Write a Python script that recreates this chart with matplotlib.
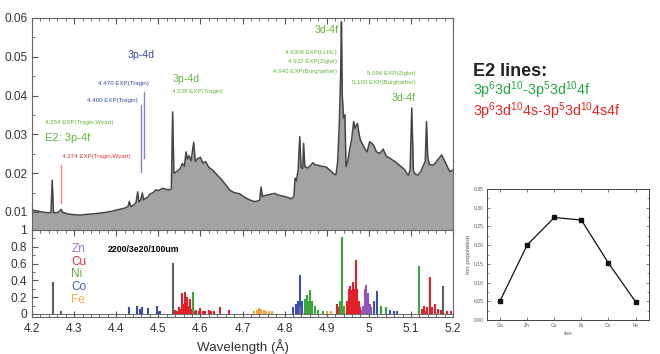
import matplotlib
matplotlib.use("Agg")
import matplotlib.pyplot as plt
from matplotlib.ticker import MultipleLocator

plt.rcParams['font.family'] = ['Liberation Sans', 'DejaVu Sans']
plt.rcParams['mathtext.fontset'] = 'custom'
plt.rcParams['mathtext.rm'] = 'Liberation Sans'
plt.rcParams['mathtext.it'] = 'Liberation Sans'

# ---------------- data: measured spectrum (top panel) ----------------
wl_top = [4.200, 4.210, 4.220, 4.230, 4.240, 4.245, 4.248, 4.251, 4.258, 4.265,
          4.269, 4.273, 4.285, 4.300, 4.315, 4.330, 4.345, 4.360, 4.375, 4.390,
          4.405, 4.420, 4.428, 4.431, 4.435, 4.442, 4.447, 4.451, 4.454, 4.458,
          4.462, 4.465, 4.470, 4.475, 4.480, 4.488, 4.494, 4.500, 4.510, 4.520,
          4.528, 4.531, 4.534, 4.537, 4.545, 4.552, 4.557, 4.562, 4.566, 4.569,
          4.573, 4.578, 4.584, 4.588, 4.594, 4.600, 4.606, 4.612, 4.620, 4.630,
          4.640, 4.650, 4.660, 4.670, 4.680, 4.693, 4.705, 4.717, 4.728, 4.735,
          4.741, 4.744, 4.747, 4.755, 4.764, 4.776, 4.786, 4.796, 4.806, 4.816,
          4.822, 4.825, 4.828, 4.832, 4.836, 4.839, 4.843, 4.845, 4.848, 4.855,
          4.860, 4.867, 4.872, 4.877, 4.887, 4.899, 4.905, 4.911, 4.918, 4.922,
          4.926, 4.930, 4.933, 4.935, 4.937, 4.940, 4.943, 4.946, 4.950, 4.955,
          4.959, 4.964, 4.967, 4.970, 4.973, 4.977, 4.980, 4.985, 4.990, 4.996,
          5.002, 5.007, 5.012, 5.018, 5.026, 5.034, 5.038, 5.042, 5.050, 5.056,
          5.062, 5.068, 5.074, 5.080, 5.086, 5.091, 5.094, 5.098, 5.102, 5.106,
          5.110, 5.117, 5.124, 5.128, 5.134, 5.137, 5.140, 5.144, 5.153, 5.158,
          5.163, 5.168, 5.173, 5.177, 5.181, 5.188, 5.193, 5.200]
int_top = [0.0105, 0.0103, 0.0101, 0.0099, 0.0098, 0.0099, 0.0182, 0.0099, 0.0098, 0.0101,
           0.0107, 0.0099, 0.0095, 0.0093, 0.0092, 0.0094, 0.0095, 0.0097, 0.0099, 0.0102,
           0.0106, 0.0110, 0.0114, 0.0127, 0.0114, 0.0118, 0.0124, 0.0152, 0.0126, 0.0130,
           0.0149, 0.0131, 0.0136, 0.0138, 0.0146, 0.0150, 0.0157, 0.0155, 0.0161, 0.0158,
           0.0157, 0.0160, 0.0358, 0.0200, 0.0205, 0.0212, 0.0225, 0.0218, 0.0255, 0.0236,
           0.0245, 0.0232, 0.0280, 0.0230, 0.0238, 0.0241, 0.0226, 0.0230, 0.0215, 0.0207,
           0.0195, 0.0184, 0.0170, 0.0156, 0.0150, 0.0147, 0.0138, 0.0131, 0.0127, 0.0128,
           0.0131, 0.0164, 0.0140, 0.0143, 0.0145, 0.0148, 0.0143, 0.0141, 0.0138, 0.0134,
           0.0140, 0.0187, 0.0180, 0.0208, 0.0294, 0.0215, 0.0212, 0.0277, 0.0217, 0.0213,
           0.0218, 0.0227, 0.0222, 0.0221, 0.0218, 0.0216, 0.0210, 0.0204, 0.0197, 0.0196,
           0.0230, 0.0330, 0.0450, 0.0590, 0.0400, 0.0342, 0.0350, 0.0217, 0.0230, 0.0265,
           0.0285, 0.0333, 0.0315, 0.0322, 0.0328, 0.0300, 0.0285, 0.0275, 0.0264, 0.0255,
           0.0281, 0.0277, 0.0271, 0.0255, 0.0251, 0.0262, 0.0252, 0.0243, 0.0239, 0.0234,
           0.0230, 0.0225, 0.0219, 0.0214, 0.0208, 0.0198, 0.0195, 0.0208, 0.0368, 0.0205,
           0.0198, 0.0195, 0.0205, 0.0217, 0.0230, 0.0333, 0.0240, 0.0222, 0.0221, 0.0226,
           0.0234, 0.0240, 0.0247, 0.0238, 0.0230, 0.0213, 0.0204, 0.0208]

# annotation marker lines (wavelength, y from, y to)
red_line_wl = [4.270]
red_line_y = [(0.0123, 0.0221)]
blue_line_wl = [4.460, 4.467]
blue_line_y = [(0.0204, 0.0376), (0.0239, 0.0410)]

# ---------------- data: simulated ion spectra (bottom panel) ----------------
zn_wl = [4.836, 4.982, 4.986, 4.990, 4.994, 4.998, 5.002, 5.006, 5.136]
zn_h = [0.08, 0.05, 0.10, 0.30, 0.35, 0.25, 0.12, 0.08, 0.04]
cu_wl = [4.540, 4.544, 4.548, 4.552, 4.556, 4.560, 4.563, 4.567, 4.571, 4.575, 4.580,
         4.586, 4.590, 4.596, 4.600, 4.606, 4.612, 4.620, 4.626, 4.632, 4.647, 4.668,
         4.924, 4.928, 4.948, 4.952, 4.955, 4.958, 4.962, 4.966, 4.970, 4.973, 4.977, 4.980,
         5.126, 5.132, 5.138, 5.145, 5.150, 5.158, 5.165, 5.172, 5.177, 5.185, 5.195]
cu_h = [0.05, 0.04, 0.08, 0.06, 0.25, 0.12, 0.26, 0.20, 0.10, 0.18, 0.06,
        0.04, 0.05, 0.03, 0.07, 0.04, 0.03, 0.05, 0.03, 0.03, 0.08, 0.05,
        0.12, 0.08, 0.15, 0.30, 0.33, 0.28, 0.38, 0.30, 0.64, 0.30, 0.15, 0.08,
        0.06, 0.10, 0.08, 0.44, 0.08, 0.12, 0.06, 0.05, 0.15, 0.04, 0.03]
ni_wl = [4.583, 4.849, 4.853, 4.857, 4.860, 4.865, 4.872, 4.880, 4.890, 4.931, 4.936,
         4.940, 5.030, 5.040, 5.118]
ni_h = [0.26, 0.18, 0.23, 0.15, 0.29, 0.15, 0.10, 0.05, 0.03, 0.15, 0.92,
        0.10, 0.10, 0.08, 0.57]
co_wl = [4.430, 4.449, 4.456, 4.462, 4.476, 4.496, 4.505, 4.821, 4.826, 4.831, 4.837,
         4.842, 5.012, 5.020, 5.028, 5.050, 5.060, 5.068]
co_h = [0.08, 0.10, 0.06, 0.08, 0.07, 0.10, 0.04, 0.08, 0.12, 0.15, 0.47,
        0.15, 0.15, 0.27, 0.10, 0.05, 0.04, 0.03]
fe_wl = [4.728, 4.735, 4.740, 4.745, 4.750, 4.756, 4.762, 4.770, 4.900, 4.910]
fe_h = [0.04, 0.05, 0.07, 0.06, 0.05, 0.04, 0.04, 0.03, 0.03, 0.04]
gray_wl = [4.249, 4.269, 4.534, 5.177]
gray_h = [0.38, 0.03, 0.61, 0.33]

# ---------------- data: ion population inset ----------------
ions = ['Ga', 'Zn', 'Cu', 'Ni', 'Co', 'Fe']
population = [0.052, 0.201, 0.274, 0.267, 0.152, 0.049]

# ---------------- figure ----------------
fig = plt.figure(figsize=(6.6, 3.54), dpi=100)

GREEN_T = '#5fb83a'
BLUE_T = '#3b4a9c'
RED_T = '#e8333a'
TICKC = '#333333'

ax1 = fig.add_axes([0.0485, 0.3503, 0.6379, 0.5989])
ybot = 0.00536
ax1.fill_between(wl_top, ybot, int_top, color='#a3a3a3', lw=0)
ax1.plot(wl_top, int_top, color='#454545', lw=1.1)
ax1.set_xlim(4.2, 5.2)
ax1.set_ylim(ybot, 0.06)
ax1.xaxis.set_major_locator(MultipleLocator(0.1))
ax1.xaxis.set_minor_locator(MultipleLocator(0.02))
ax1.yaxis.set_minor_locator(MultipleLocator(0.005))
ax1.set_yticks([0.01, 0.02, 0.03, 0.04, 0.05, 0.06])
ax1.set_yticklabels(['0.01', '0.02', '0.03', '0.04', '0.05', '0.06'])
ax1.tick_params(axis='both', which='both', direction='in', colors='#555555',
                labelcolor=TICKC, labelsize=8.6, top=True, bottom=False, right=False,
                labelbottom=False)
ax1.tick_params(which='major', length=4)
ax1.tick_params(which='minor', length=2)
for s in ax1.spines.values():
    s.set_color('#666666')
    s.set_linewidth(0.8)

for wl, (y0, y1) in zip(red_line_wl, red_line_y):
    ax1.plot([wl, wl], [y0, y1], color='#f08a8a', lw=1.0)
for wl, (y0, y1) in zip(blue_line_wl, blue_line_y):
    ax1.plot([wl, wl], [y0, y1], color='#8088b8', lw=1.0)

small = 4.4
ax1.text(4.428, 0.0496, '3p-4d', color=BLUE_T, fontsize=7.6)
ax1.text(4.478, 0.0427, '4.470 EXP(Tragin)', color=BLUE_T, fontsize=small, ha='right')
ax1.text(4.452, 0.0384, '4.460 EXP(Tragin)', color=BLUE_T, fontsize=small, ha='right')
ax1.text(4.231, 0.0327, '4.254 EXP(Tragin,Wyart)', color=GREEN_T, fontsize=small)
ax1.text(4.231, 0.0284, 'E2: 3p-4f', color=GREEN_T, fontsize=8.0)
ax1.text(4.271, 0.0238, '4.274 EXP(Tragin,Wyart)', color=RED_T, fontsize=small)
ax1.text(4.534, 0.0436, '3p-4d', color=GREEN_T, fontsize=7.6)
ax1.text(4.533, 0.0407, '4.538 EXP(Tragin)', color=GREEN_T, fontsize=small)
ax1.text(4.927, 0.0562, '3d-4f', color=GREEN_T, fontsize=7.6, ha='right')
ax1.text(4.9245, 0.0507, '4.9309 EXP(LLNL)', color=GREEN_T, fontsize=small, ha='right')
ax1.text(4.9245, 0.0483, '4.932 EXP(Zigler)', color=GREEN_T, fontsize=small, ha='right')
ax1.text(4.9245, 0.0459, '4.940 EXP(Burgharher)', color=GREEN_T, fontsize=small, ha='right')
ax1.text(5.112, 0.0453, '5.096 EXP(Zigler)', color=GREEN_T, fontsize=small, ha='right')
ax1.text(5.112, 0.0430, '5.102 EXP(Burgharher)', color=GREEN_T, fontsize=small, ha='right')
ax1.text(5.110, 0.0387, '3d-4f', color=GREEN_T, fontsize=7.6, ha='right')

# bottom panel
ax2 = fig.add_axes([0.0485, 0.1045, 0.6379, 0.2458])
ax2.axhline(0, color='#555555', lw=0.6, zorder=1)
series = [(fe_wl, fe_h, '#f2a33a'), (co_wl, co_h, '#3a4fb0'), (zn_wl, zn_h, '#8e55b8'),
          (cu_wl, cu_h, '#e3202a'), (ni_wl, ni_h, '#3aa53a'), (gray_wl, gray_h, '#556655')]
for wls, hs, c in series:
    ax2.vlines(wls, 0, hs, colors=c, lw=1.5, zorder=2)
ax2.set_xlim(4.2, 5.2)
ax2.set_ylim(-0.036, 1.0)
xt = [4.2, 4.3, 4.4, 4.5, 4.6, 4.7, 4.8, 4.9, 5.0, 5.1, 5.2]
xtl = ['4.2', '4.3', '4.4', '4.5', '4.6', '4.7', '4.8', '4.9', '5', '5.1', '5.2']
ax2.set_xticks(xt)
ax2.set_xticklabels(xtl)
ax2.xaxis.set_minor_locator(MultipleLocator(0.02))
yt = [0, 0.2, 0.4, 0.6, 0.8, 1.0]
ytl = ['0', '0.2', '0.4', '0.6', '0.8', '1']
ax2.set_yticks(yt)
ax2.set_yticklabels(ytl)
ax2.yaxis.set_minor_locator(MultipleLocator(0.1))
ax2.tick_params(axis='both', which='both', direction='in', colors='#555555',
                labelcolor=TICKC, labelsize=8.6, top=True, right=False)
ax2.tick_params(which='major', length=4)
ax2.tick_params(axis='x', which='major', pad=4.5)
ax2.tick_params(which='minor', length=2)
for s in ax2.spines.values():
    s.set_color('#666666')
    s.set_linewidth(0.8)
ax2.set_xlabel('Wavelength (Å)', fontsize=9.6, color=TICKC, labelpad=3)

ion_labels = ['Zn', 'Cu', 'Ni', 'Co', 'Fe']
ion_colors = ['#a070c8', '#d83040', '#5aaa40', '#4060b0', '#f0b040']
for i, (lab, c) in enumerate(zip(ion_labels, ion_colors)):
    ax2.text(0.093, 0.78 - i * 0.145, lab, color=c, fontsize=8.5,
             transform=ax2.transAxes, va='center')
ax2.text(0.181, 0.78, '2200/3e20/100um', color='black', fontsize=6.3,
         fontweight='bold', transform=ax2.transAxes, va='center')

# legend text on the right
fig.text(0.717, 0.785, 'E2 lines:', fontsize=13, fontweight='bold', color='#222222')
fig.text(0.717, 0.733, r'3p$^{6}$3d$^{10}$-3p$^{5}$3d$^{10}$4f', fontsize=10.3, color='#22aa44')
fig.text(0.717, 0.673, r'3p$^{6}$3d$^{10}$4s-3p$^{5}$3d$^{10}$4s4f', fontsize=10.3, color='#ee2222')

# inset
ax3 = fig.add_axes([0.7374, 0.096, 0.246, 0.370])
ax3.plot(range(len(ions)), population, color='#111111', lw=0.9,
         marker='s', markersize=3.2, markerfacecolor='#111111')
ax3.set_xlim(-0.5, 5.5)
ax3.set_ylim(0, 0.35)
ax3.set_xticks(range(len(ions)))
ax3.set_xticklabels(ions)
ax3.set_yticks([0.00, 0.05, 0.10, 0.15, 0.20, 0.25, 0.30, 0.35])
ax3.set_yticklabels(['0.00', '0.05', '0.10', '0.15', '0.20', '0.25', '0.30', '0.35'])
ax3.yaxis.set_minor_locator(MultipleLocator(0.025))
ax3.tick_params(axis='both', which='both', direction='in', labelsize=3.6,
                colors='#444444', labelcolor='#555555', top=True, right=True, pad=2)
ax3.tick_params(which='major', length=2.5, width=0.5)
ax3.tick_params(which='minor', length=1.5, width=0.4)
for s in ax3.spines.values():
    s.set_color('#444444')
    s.set_linewidth(0.7)
ax3.set_xlabel('Ion', fontsize=4.5, color='#555555', labelpad=2)
ax3.set_ylabel('Ion population', fontsize=4.5, color='#555555', labelpad=2)

fig.savefig('out.png', dpi=100)
